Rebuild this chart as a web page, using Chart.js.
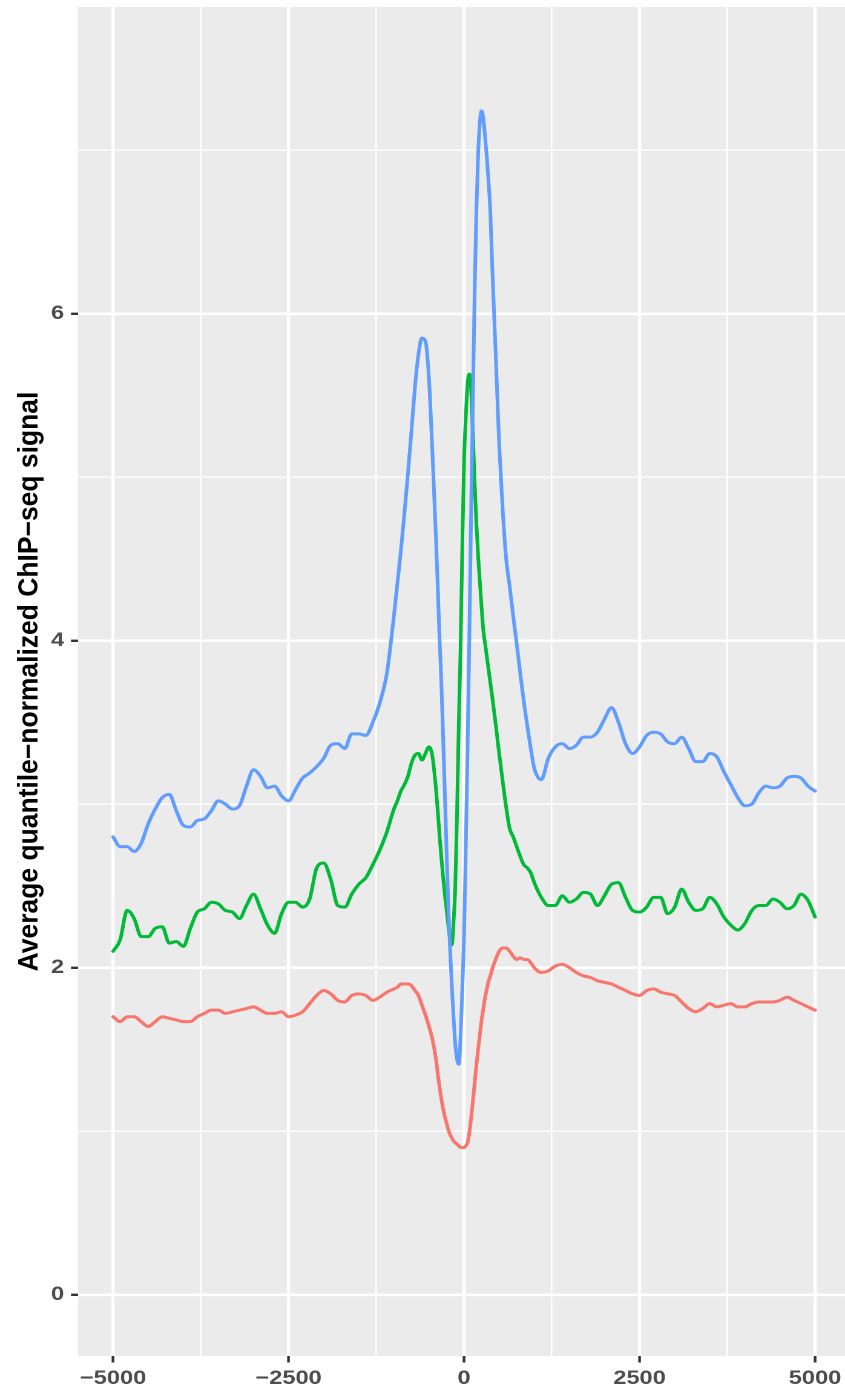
<!DOCTYPE html>
<html>
<head>
<meta charset="utf-8">
<title>Average ChIP-seq signal profile</title>
<script src="https://cdn.jsdelivr.net/npm/chart.js@4.4.1/dist/chart.umd.min.js"></script>
<style>
    html, body { margin: 0; padding: 0; background: #ffffff; overflow: hidden; }
    /* the reference is stretched sideways, so draw narrow and widen with CSS */
    #wrap { position: absolute; left: 0; top: 0; width: 698px; height: 1393px; transform: scaleX(1.2106); transform-origin: 0 0; }
</style>
</head>
<body>
<div id="wrap"><canvas id="profileChart" width="698" height="1393"></canvas></div>
<script>
// distance to centre (bp)
const positions = [
    -5000, -4900, -4800, -4700, -4600, -4500, -4400, -4300, -4200, -4100,
    -4000, -3900, -3800, -3700, -3600, -3500, -3400, -3300, -3200, -3100,
    -3000, -2900, -2800, -2700, -2600, -2500, -2400, -2300, -2200, -2100,
    -2000, -1900, -1800, -1700, -1600, -1500, -1400, -1300, -1200, -1100,
    -1000,
    -950, -900, -850, -800, -750, -700, -650, -600, -550, -500, -450, -400,
    -375, -350, -325, -300, -275, -250, -225, -200, -175, -150,
    -125, -100, -75, -50, -25, 0, 25, 50, 75, 100,
    125, 150, 175, 200, 225, 250, 275, 300, 325, 350, 375,
    400, 450, 500, 550, 600, 650, 700, 750, 800, 850, 900, 950, 1000,
    1100, 1200, 1300, 1400, 1500, 1600, 1700, 1800, 1900, 2000,
    2100, 2200, 2300, 2400, 2500, 2600, 2700, 2800, 2900, 3000,
    3100, 3200, 3300, 3400, 3500, 3600, 3700, 3800, 3900, 4000,
    4100, 4200, 4300, 4400, 4500, 4600, 4700, 4800, 4900, 5000
];

const redSignal = [
    1.70, 1.67, 1.70, 1.70, 1.67, 1.64, 1.67, 1.70, 1.69, 1.68,
    1.67, 1.67, 1.70, 1.72, 1.74, 1.74, 1.72, 1.73, 1.74, 1.75,
    1.76, 1.74, 1.72, 1.72, 1.73, 1.70, 1.71, 1.73, 1.78, 1.83,
    1.86, 1.84, 1.80, 1.79, 1.83, 1.84, 1.83, 1.80, 1.82, 1.85,
    1.87,
    1.88, 1.90, 1.90, 1.90, 1.89, 1.86, 1.83, 1.77, 1.71, 1.64, 1.56, 1.44,
    1.35, 1.27, 1.20, 1.14, 1.09, 1.05, 1.01, 0.98, 0.96, 0.94,
    0.93, 0.92, 0.91, 0.90, 0.90, 0.90, 0.91, 0.93, 0.99, 1.08,
    1.18, 1.29, 1.40, 1.50, 1.59, 1.68, 1.75, 1.82, 1.87, 1.92, 1.95,
    1.99, 2.05, 2.10, 2.12, 2.12, 2.10, 2.07, 2.05, 2.06, 2.05, 2.05, 2.03, 2.00,
    1.97, 1.98, 2.01, 2.02, 2.00, 1.97, 1.95, 1.94, 1.92, 1.91,
    1.90, 1.88, 1.86, 1.84, 1.83, 1.86, 1.87, 1.85, 1.84, 1.83,
    1.79, 1.75, 1.73, 1.75, 1.78, 1.76, 1.77, 1.78, 1.76, 1.76,
    1.78, 1.79, 1.79, 1.79, 1.80, 1.82, 1.80, 1.78, 1.76, 1.74
];

const greenSignal = [
    2.10, 2.17, 2.35, 2.30, 2.19, 2.19, 2.24, 2.25, 2.15, 2.16,
    2.13, 2.24, 2.34, 2.36, 2.40, 2.39, 2.35, 2.34, 2.30, 2.38,
    2.45, 2.36, 2.26, 2.21, 2.33, 2.40, 2.40, 2.37, 2.42, 2.61,
    2.64, 2.54, 2.38, 2.37, 2.45, 2.51, 2.55, 2.63, 2.72, 2.83,
    2.97,
    3.02, 3.08, 3.12, 3.17, 3.25, 3.30, 3.31, 3.27, 3.31, 3.35, 3.29, 3.09,
    2.96, 2.81, 2.68, 2.56, 2.45, 2.36, 2.26, 2.18, 2.14, 2.28,
    2.50, 2.95, 3.50, 3.95, 4.58, 5.10, 5.37, 5.57, 5.63, 5.54,
    5.27, 4.97, 4.72, 4.52, 4.36, 4.20, 4.06, 3.98, 3.90, 3.82, 3.74,
    3.66, 3.49, 3.31, 3.14, 2.98, 2.85, 2.80, 2.74, 2.68, 2.63, 2.61, 2.58, 2.52,
    2.43, 2.38, 2.38, 2.44, 2.40, 2.42, 2.46, 2.45, 2.38, 2.44,
    2.51, 2.52, 2.43, 2.35, 2.34, 2.37, 2.43, 2.43, 2.33, 2.37,
    2.48, 2.40, 2.35, 2.36, 2.43, 2.39, 2.31, 2.26, 2.23, 2.27,
    2.35, 2.38, 2.38, 2.42, 2.40, 2.36, 2.38, 2.45, 2.41, 2.31
];

const blueSignal = [
    2.80, 2.74, 2.74, 2.71, 2.76, 2.88, 2.97, 3.04, 3.06, 2.96,
    2.87, 2.86, 2.90, 2.91, 2.96, 3.02, 3.00, 2.97, 2.99, 3.11,
    3.21, 3.17, 3.10, 3.11, 3.05, 3.02, 3.09, 3.16, 3.19, 3.23,
    3.28, 3.36, 3.37, 3.34, 3.43, 3.43, 3.42, 3.50, 3.62, 3.80,
    4.15,
    4.35, 4.55, 4.78, 5.02, 5.28, 5.55, 5.75, 5.85, 5.83, 5.60, 5.14, 4.62,
    4.33, 4.02, 3.76, 3.43, 3.08, 2.72, 2.38, 2.12, 1.89, 1.70,
    1.53, 1.44, 1.41, 1.58, 1.87, 2.20, 2.75, 3.35, 4.02, 4.78,
    5.45, 6.12, 6.62, 6.97, 7.17, 7.24, 7.19, 7.08, 6.95, 6.80, 6.61,
    6.30, 5.76, 5.20, 4.80, 4.50, 4.33, 4.15, 3.98, 3.80, 3.63, 3.48, 3.34, 3.22,
    3.15, 3.28, 3.35, 3.37, 3.34, 3.36, 3.41, 3.41, 3.44, 3.52,
    3.59, 3.50, 3.37, 3.31, 3.35, 3.42, 3.44, 3.43, 3.38, 3.37,
    3.41, 3.34, 3.26, 3.26, 3.31, 3.29, 3.20, 3.12, 3.04, 2.99,
    3.00, 3.07, 3.11, 3.10, 3.11, 3.16, 3.17, 3.16, 3.11, 3.08
];

// major ticks get labels, minor ones only a thin grid line
const xTickValues = [-5000, -3750, -2500, -1250, 0, 1250, 2500, 3750, 5000];
const yTickValues = [0, 1, 2, 3, 4, 5, 6, 7];
const yTitle = 'Average quantile\u2212normalized ChIP\u2212seq signal';

const FONT = '"Liberation Sans", Arial, Helvetica, sans-serif';

function toPoints(values) {
    return positions.map((x, i) => ({ x: x, y: values[i] }));
}

function isMajorX(v) { return v % 2500 === 0; }
function isMajorY(v) { return v % 2 === 0; }

// ggplot grey panel + the rotated axis title
const panelDecor = {
    id: 'panelDecor',
    beforeDraw(chart) {
        const { ctx, chartArea: a } = chart;
        ctx.save();
        ctx.fillStyle = '#FFFFFF';
        ctx.fillRect(0, 0, chart.width, chart.height);
        ctx.fillStyle = '#EBEBEB';
        ctx.fillRect(a.left, a.top, a.right - a.left, a.bottom - a.top);
        ctx.restore();
    },
    afterDraw(chart) {
        const { ctx, chartArea: a } = chart;
        ctx.save();
        ctx.translate(24.5, (a.top + a.bottom) / 2);
        ctx.rotate(-Math.PI / 2);
        ctx.scale(1.15, 1);   // undo the sideways stretch along the text
        ctx.font = 'bold 23px ' + FONT;
        ctx.fillStyle = '#000000';
        ctx.textAlign = 'center';
        ctx.textBaseline = 'middle';
        ctx.fillText(yTitle, 0, 0);
        ctx.restore();
    }
};

const lineStyle = { pointRadius: 0, borderWidth: 3, cubicInterpolationMode: 'monotone', fill: false, borderJoinStyle: 'round', borderCapStyle: 'round' };

const ctx = document.getElementById('profileChart').getContext('2d');
const profileChart = new Chart(ctx, {
    type: 'line',
    data: {
        datasets: [
            Object.assign({ label: 'red', data: toPoints(redSignal), borderColor: '#F8766D', order: 2 }, lineStyle),
            Object.assign({ label: 'green', data: toPoints(greenSignal), borderColor: '#00BA38', order: 1 }, lineStyle),
            Object.assign({ label: 'blue', data: toPoints(blueSignal), borderColor: '#619CFF', order: 0 }, lineStyle)
        ]
    },
    options: {
        responsive: false,
        devicePixelRatio: 2,
        animation: false,
        layout: { padding: { top: 7, left: 0, right: 0, bottom: 0 } },
        plugins: {
            legend: { display: false },
            tooltip: { enabled: false }
        },
        scales: {
            x: {
                type: 'linear',
                min: -5500,
                max: 5427,
                afterBuildTicks: scale => { scale.ticks = xTickValues.map(v => ({ value: v })); },
                afterFit: scale => {
                    scale.height = 37;
                    scale.paddingLeft = 0;
                    scale.paddingRight = 0;
                },
                border: { display: false },
                grid: {
                    color: '#FFFFFF',
                    lineWidth: c => isMajorX(c.tick.value) ? 2.6 : 1.3,
                    tickColor: c => isMajorX(c.tick.value) ? '#333333' : 'rgba(0,0,0,0)',
                    tickLength: 6.5,
                    tickWidth: 2.2
                },
                ticks: {
                    autoSkip: false,
                    maxRotation: 0,
                    padding: 4.2,
                    color: '#4D4D4D',
                    font: { family: FONT, size: 19.5, weight: 'bold' },
                    callback: v => isMajorX(v) ? (v < 0 ? '\u2212' + Math.abs(v) : String(v)) : ''
                }
            },
            y: {
                type: 'linear',
                min: -0.375,
                max: 7.875,
                afterBuildTicks: scale => { scale.ticks = yTickValues.map(v => ({ value: v })); },
                afterFit: scale => {
                    scale.width = 64.43;
                    scale.paddingTop = 0;
                    scale.paddingBottom = 0;
                },
                border: { display: false },
                grid: {
                    color: '#FFFFFF',
                    lineWidth: c => isMajorY(c.tick.value) ? 2.6 : 1.3,
                    tickColor: c => isMajorY(c.tick.value) ? '#333333' : 'rgba(0,0,0,0)',
                    tickLength: 5.8,
                    tickWidth: 2.4
                },
                ticks: {
                    autoSkip: false,
                    padding: 5.7,
                    color: '#4D4D4D',
                    font: { family: FONT, size: 19.5, weight: 'bold' },
                    callback: v => isMajorY(v) ? String(v) : ''
                }
            }
        }
    },
    plugins: [panelDecor]
});
</script>
</body>
</html>
